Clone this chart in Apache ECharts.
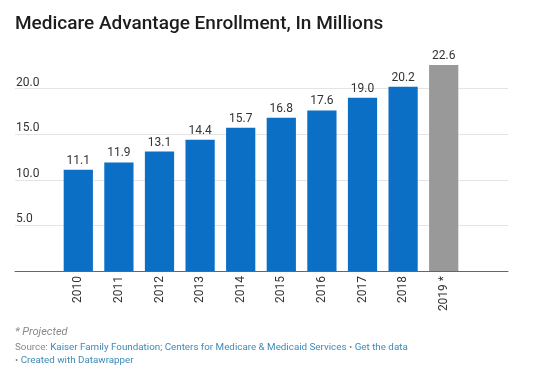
<!DOCTYPE html>
<html><head><meta charset="utf-8">
<script src="https://cdn.jsdelivr.net/npm/echarts@6/dist/echarts.min.js"></script>
<style>html,body{margin:0;padding:0;background:#fff}#c{width:540px;height:388px}</style>
</head><body><div id="c"></div>
<script>
const years = ['2010','2011','2012','2013','2014','2015','2016','2017','2018','2019 *'];
const enrollment = [11.1, 11.9, 13.1, 14.4, 15.7, 16.8, 17.6, 19.0, 20.2, 22.6];
const projected = [false,false,false,false,false,false,false,false,false,true];
const yTicks = [5, 10, 15, 20];

const BLUE = '#0b6fc5', GRAY = '#999999';
const chart = echarts.init(document.getElementById('c'));
chart.setOption({
  backgroundColor: '#fff',
  animation: false,
  textStyle: { fontFamily: 'Roboto' },
  grid: [
    { left: 15, right: 32, top: 43, bottom: 117 },
    { left: 58, right: 76, top: 43, bottom: 117 }
  ],
  xAxis: [
    { gridIndex: 0, type: 'value', min: 0, max: 1, axisLine: { show: true, onZero: false, lineStyle: { color: '#666', width: 1 } },
      axisTick: { show: false }, axisLabel: { show: false }, splitLine: { show: false } },
    { gridIndex: 1, type: 'category', data: years, axisLine: { show: false }, axisTick: { show: false },
      axisLabel: { rotate: 90, fontSize: 12, color: '#333', margin: 5, fontFamily: 'Roboto' } }
  ],
  yAxis: [
    { gridIndex: 0, type: 'value', min: 0, max: 25, interval: 5,
      axisLine: { show: false }, axisTick: { show: false },
      axisLabel: { inside: true, margin: 1, verticalAlign: 'bottom', fontSize: 12, color: '#333',
        formatter: v => yTicks.indexOf(v) >= 0 ? v.toFixed(1) : '' },
      splitLine: { show: true, showMinLine: false, showMaxLine: false, lineStyle: { color: '#e4e4e4', width: 1 } } },
    { gridIndex: 1, type: 'value', min: 0, max: 25, show: false }
  ],
  series: [{
    type: 'bar', xAxisIndex: 1, yAxisIndex: 1,
    barCategoryGap: '28%',
    data: enrollment.map((v, i) => ({ value: v, itemStyle: { color: projected[i] ? GRAY : BLUE } })),
    label: { show: true, position: 'top', distance: 3, fontSize: 12, color: '#333', fontFamily: 'Roboto',
      formatter: p => p.value.toFixed(1) }
  }],
  graphic: [
    { type: 'text', left: 15, top: 15, style: { text: 'Medicare Advantage Enrollment, In Millions',
      font: '500 19px Roboto', fill: '#1d1d1d' } },
    { type: 'text', left: 15, top: 327, style: { text: '* Projected', font: 'italic 11px Roboto', fill: '#888' } },
    { type: 'text', left: 15, top: 343, style: {
      text: '{g|Source: }{b|Kaiser Family Foundation; Centers for Medicare & Medicaid Services}{g| • }{b|Get the data}\n{g|• }{b|Created with Datawrapper}',
      rich: { g: { font: '9.8px Roboto', fill: '#888', lineHeight: 12.5 }, b: { font: '9.8px Roboto', fill: '#3d8ab8', lineHeight: 12.5 } } } }
  ]
});
</script></body></html>
